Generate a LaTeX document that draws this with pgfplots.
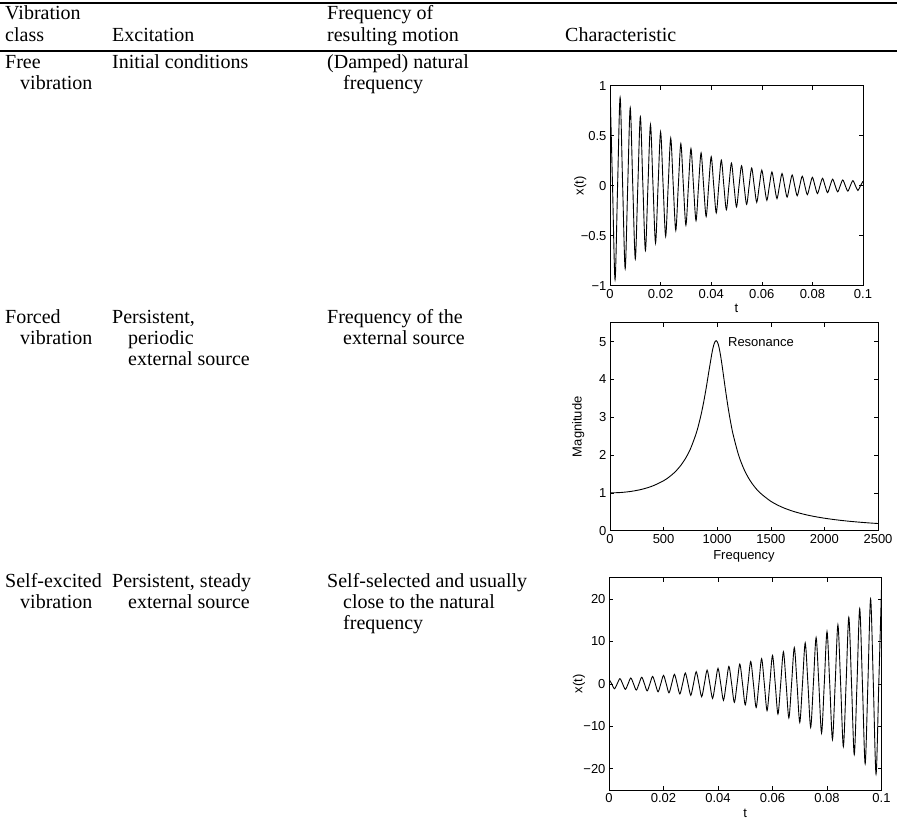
\documentclass[border=0pt]{standalone}
\usepackage{fontspec}
\setmainfont{Liberation Serif}
\newfontfamily\plotsans{Liberation Sans}
\usepackage{pgfplots}
\pgfplotsset{compat=1.18}
\newcommand{\tf}{\fontsize{20}{24}\selectfont}
\newcommand{\pf}{\plotsans\fontsize{13}{15}\selectfont}
\begin{document}
\begin{tikzpicture}[x=1pt,y=1pt,txt/.style={anchor=base west,inner sep=0pt,font=\tf}]
\useasboundingbox (0,0) rectangle (897,825);
\pgfplotsset{mat/.style={scale only axis, axis line style={line width=0.8pt,black},
  tick align=inside, major tick length=4pt, tick style={line width=0.6pt,black},
  every tick label/.append style={font=\pf}, scaled ticks=false,
  every axis x label/.style={at={(axis description cs:0.5,0)},anchor=center,yshift=-23pt,font=\pf},
  every axis y label/.style={at={(axis description cs:-0.118,0.5)},anchor=center,rotate=90,font=\pf},
  every axis plot/.append style={line width=0.9pt,black}}}
% rules
\draw[line width=2.5pt] (0,822) -- (897,822);
\draw[line width=2.5pt] (0,774) -- (897,774);
% header
\node[txt] at (5,805) {Vibration};
\node[txt] at (5,783) {class};
\node[txt] at (112,783) {Excitation};
\node[txt] at (327,805) {Frequency of};
\node[txt] at (327,783) {resulting motion};
\node[txt] at (565,783) {Characteristic};
% row 1
\node[txt] at (5,756) {Free};
\node[txt] at (20,735) {vibration};
\node[txt] at (112,756) {Initial conditions};
\node[txt] at (327,756) {(Damped) natural};
\node[txt] at (343,735) {frequency};
% row 2
\node[txt] at (5,501) {Forced};
\node[txt] at (20,480) {vibration};
\node[txt] at (112,501) {Persistent,};
\node[txt] at (128,480) {periodic};
\node[txt] at (128,459) {external source};
\node[txt] at (327,501) {Frequency of the};
\node[txt] at (343,480) {external source};
% row 3
\node[txt] at (5,237) {Self-excited};
\node[txt] at (20,216) {vibration};
\node[txt] at (112,237) {Persistent, steady};
\node[txt] at (128,216) {external source};
\node[txt] at (327,237) {Self-selected and usually};
\node[txt] at (343,216) {close to the natural};
\node[txt] at (343,195) {frequency};

% plot 1
\begin{axis}[mat, at={(610pt,539.3pt)}, anchor=south west, width=253pt, height=200pt,
  xmin=0, xmax=0.1, ymin=-1, ymax=1,
  xtick={0,0.02,0.04,0.06,0.08,0.1}, xticklabels={0,0.02,0.04,0.06,0.08,0.1},
  ytick={-1,-0.5,0,0.5,1}, yticklabels={−1,−0.5,0,0.5,1},
  xlabel={t}, ylabel={x(t)}]
\addplot[smooth] coordinates {(0,1) (0.001,0) (0.002,-0.9399) (0.003,0) (0.004,0.8834) (0.005,0) (0.006,-0.8303) (0.007,0) (0.008,0.7804) (0.009,0) (0.010,-0.7334) (0.011,0) (0.012,0.6894) (0.013,0) (0.014,-0.6479) (0.015,0) (0.016,0.6090) (0.017,0) (0.018,-0.5724) (0.019,0) (0.020,0.5379) (0.021,0) (0.022,-0.5056) (0.023,0) (0.024,0.4752) (0.025,0) (0.026,-0.4466) (0.027,0) (0.028,0.4198) (0.029,0) (0.030,-0.3946) (0.031,0) (0.032,0.3708) (0.033,0) (0.034,-0.3486) (0.035,0) (0.036,0.3276) (0.037,0) (0.038,-0.3079) (0.039,0) (0.040,0.2894) (0.041,0) (0.042,-0.2720) (0.043,0) (0.044,0.2556) (0.045,0) (0.046,-0.2403) (0.047,0) (0.048,0.2258) (0.049,0) (0.050,-0.2122) (0.051,0) (0.052,0.1995) (0.053,0) (0.054,-0.1875) (0.055,0) (0.056,0.1762) (0.057,0) (0.058,-0.1656) (0.059,0) (0.060,0.1557) (0.061,0) (0.062,-0.1463) (0.063,0) (0.064,0.1375) (0.065,0) (0.066,-0.1292) (0.067,0) (0.068,0.1215) (0.069,0) (0.070,-0.1142) (0.071,0) (0.072,0.1073) (0.073,0) (0.074,-0.1008) (0.075,0) (0.076,0.0948) (0.077,0) (0.078,-0.0891) (0.079,0) (0.080,0.0837) (0.081,0) (0.082,-0.0787) (0.083,0) (0.084,0.0740) (0.085,0) (0.086,-0.0695) (0.087,0) (0.088,0.0653) (0.089,0) (0.090,-0.0614) (0.091,0) (0.092,0.0577) (0.093,0) (0.094,-0.0543) (0.095,0) (0.096,0.0510) (0.097,0) (0.098,-0.0479) (0.099,0) (0.100,0.0450)};
\end{axis}

% plot 2
\begin{axis}[mat, at={(610pt,294.3pt)}, anchor=south west, width=268pt, height=208pt,
  xmin=0, xmax=2500, ymin=0, ymax=5.5,
  xtick={0,500,1000,1500,2000,2500}, xticklabels={0,500,1000,1500,2000,2500},
  ytick={0,1,2,3,4,5}, yticklabels={0,1,2,3,4,5},
  xlabel={Frequency}, ylabel={Magnitude},
  every axis x label/.append style={yshift=-3pt}]
\addplot[smooth] coordinates {(0,1) (100,1.0099) (200,1.0408) (300,1.0965) (400,1.1851) (500,1.3216) (550,1.4162) (600,1.5357) (650,1.6894) (700,1.8908) (750,2.1622) (800,2.5383) (825,2.7819) (850,3.0731) (875,3.4188) (900,3.8210) (925,4.2613) (950,4.6826) (960,4.8218) (970,4.9309) (980,5.0010) (990,5.0251) (1000,5.0) (1010,4.9262) (1020,4.8086) (1030,4.6553) (1040,4.4755) (1050,4.2794) (1075,3.7677) (1100,3.2880) (1125,2.8726) (1150,2.5245) (1200,1.9952) (1250,1.6246) (1300,1.3562) (1350,1.1552) (1400,1.0) (1500,0.7779) (1600,0.6279) (1700,0.5207) (1800,0.4408) (1900,0.3791) (2000,0.3304) (2100,0.2911) (2200,0.2587) (2300,0.2318) (2400,0.2090) (2500,0.1896)};
\node[anchor=west,font=\pf,inner sep=0pt] at (axis cs:1100,5) {Resonance};
\end{axis}

% plot 3
\begin{axis}[mat, at={(609pt,35pt)}, anchor=south west, width=272.5pt, height=212.3pt,
  xmin=0, xmax=0.1, ymin=-25, ymax=25,
  xtick={0,0.02,0.04,0.06,0.08,0.1}, xticklabels={0,0.02,0.04,0.06,0.08,0.1},
  ytick={-20,-10,0,10,20}, yticklabels={−20,−10,0,10,20},
  xlabel={t}, ylabel={x(t)},
  every axis y label/.append style={at={(axis description cs:-0.11,0.5)}}]
\addplot[smooth] coordinates {(0,1.08) (0.001,0) (0.002,-1.148) (0.003,0) (0.004,1.220) (0.005,0) (0.006,-1.296) (0.007,0) (0.008,1.377) (0.009,0) (0.010,-1.464) (0.011,0) (0.012,1.556) (0.013,0) (0.014,-1.653) (0.015,0) (0.016,1.757) (0.017,0) (0.018,-1.867) (0.019,0) (0.020,1.984) (0.021,0) (0.022,-2.108) (0.023,0) (0.024,2.240) (0.025,0) (0.026,-2.381) (0.027,0) (0.028,2.530) (0.029,0) (0.030,-2.689) (0.031,0) (0.032,2.857) (0.033,0) (0.034,-3.036) (0.035,0) (0.036,3.227) (0.037,0) (0.038,-3.429) (0.039,0) (0.040,3.644) (0.041,0) (0.042,-3.872) (0.043,0) (0.044,4.115) (0.045,0) (0.046,-4.373) (0.047,0) (0.048,4.647) (0.049,0) (0.050,-4.939) (0.051,0) (0.052,5.248) (0.053,0) (0.054,-5.577) (0.055,0) (0.056,5.927) (0.057,0) (0.058,-6.299) (0.059,0) (0.060,6.693) (0.061,0) (0.062,-7.113) (0.063,0) (0.064,7.559) (0.065,0) (0.066,-8.033) (0.067,0) (0.068,8.537) (0.069,0) (0.070,-9.072) (0.071,0) (0.072,9.640) (0.073,0) (0.074,-10.245) (0.075,0) (0.076,10.887) (0.077,0) (0.078,-11.570) (0.079,0) (0.080,12.295) (0.081,0) (0.082,-13.066) (0.083,0) (0.084,13.885) (0.085,0) (0.086,-14.756) (0.087,0) (0.088,15.681) (0.089,0) (0.090,-16.664) (0.091,0) (0.092,17.709) (0.093,0) (0.094,-18.819) (0.095,0) (0.096,19.999) (0.097,0) (0.098,-21.253) (0.099,0) (0.100,22.585)};
\end{axis}
\end{tikzpicture}
\end{document}
